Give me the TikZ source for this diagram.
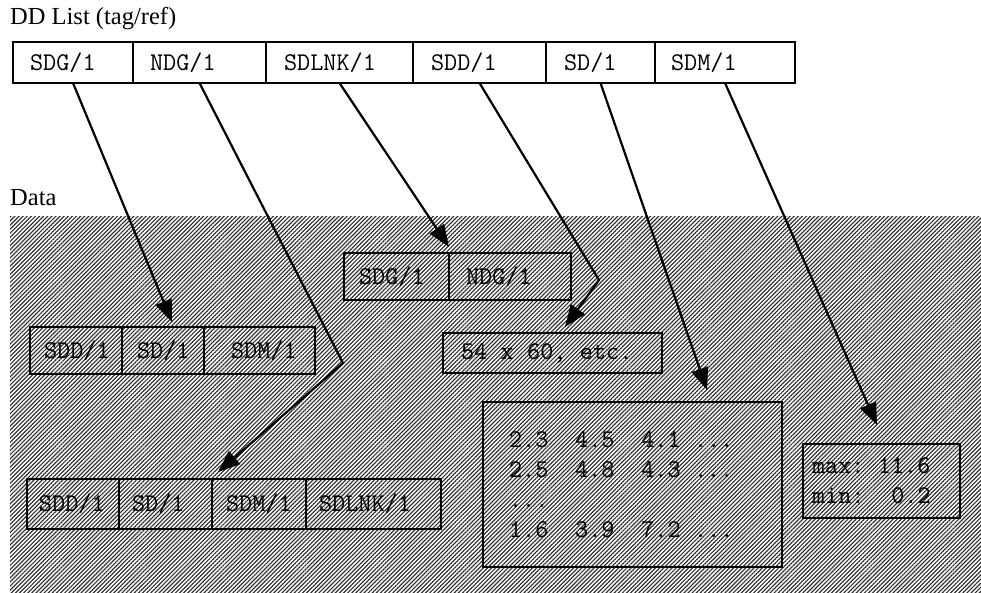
\documentclass[tikz,border=0pt]{standalone}
\usepackage{fontspec}
\setmainfont{Liberation Serif}
\newcommand\msp{\hspace*{0.525em}}
\usetikzlibrary{arrows.meta,patterns.meta,calc}
\begin{document}
\begin{tikzpicture}[x=1pt,y=-1pt,
  cell/.style={draw, line width=2.4pt, outer sep=0pt, anchor=north west, inner xsep=0pt, inner ysep=0pt, align=left, font=\ttfamily\fontsize{25.5}{30}\selectfont},
  link/.style={line width=2.2pt, line join=miter, -{Triangle[length=22pt,width=17pt]}},
  lbl/.style={anchor=base west, inner sep=0pt, font=\fontsize{24.5}{26}\selectfont}]
\useasboundingbox (0,0) rectangle (981,592);
% hatched data area
\fill[pattern={Lines[angle=45,distance=2.9pt,line width=1.2pt]}, pattern color=black!80] (10,216) rectangle (981,592);
% labels
\node[lbl] (ddlist) at (10,24) {DD List (tag/ref)};
\node[lbl] (datalbl) at (10,205) {Data};
% top DD list
\node[cell, text width=120pt, minimum height=41pt] (tsdg) at (13,42) {\hspace*{17pt}SDG/1};
\node[cell, text width=133pt, minimum height=41pt] (tndg) at (tsdg.north east) {\hspace*{17pt}NDG/1};
\node[cell, text width=147pt, minimum height=41pt] (tsdlnk) at (tndg.north east) {\hspace*{18pt}SDLNK/1};
\node[cell, text width=133pt, minimum height=41pt] (tsdd) at (tsdlnk.north east) {\hspace*{18pt}SDD/1};
\node[cell, text width=109pt, minimum height=41pt] (tsd) at (tsdd.north east) {\hspace*{18pt}SD/1};
\node[cell, text width=140pt, minimum height=41pt] (tsdm) at (tsd.north east) {\hspace*{16pt}SDM/1};
% SDG list
\node[cell, text width=92pt, minimum height=47pt] (asdd) at (30,327) {\hspace*{14pt}SDD/1};
\node[cell, text width=82pt, minimum height=47pt] (asd) at (asdd.north east) {\hspace*{15pt}SD/1};
\node[cell, text width=111pt, minimum height=47pt] (asdm) at (asd.north east) {\hspace*{27pt}SDM/1};
% NDG list
\node[cell, text width=92pt, minimum height=50pt] (bsdd) at (27,479) {\hspace*{12pt}SDD/1};
\node[cell, text width=93pt, minimum height=50pt] (bsd) at (bsdd.north east) {\hspace*{13pt}SD/1};
\node[cell, text width=94pt, minimum height=50pt] (bsdm) at (bsd.north east) {\hspace*{14pt}SDM/1};
\node[cell, text width=135pt, minimum height=50pt] (bsdlnk) at (bsdm.north east) {\hspace*{13pt}SDLNK/1};
% SDLNK list
\node[cell, text width=105pt, minimum height=47pt] (csdg) at (344,253) {\hspace*{15pt}SDG/1};
\node[cell, text width=122pt, minimum height=47pt] (cndg) at (csdg.north east) {\hspace*{17pt}NDG/1};
% SDD
\node[cell, text width=219pt, minimum height=40pt] (dim) at (443,333) {\hspace*{18pt}54\msp x\msp 60,\msp etc.};
% SD data
\node[cell, text width=247pt, inner xsep=26pt, minimum height=165pt] (vals) at (483,402)
  {2.3\msp\msp 4.5\msp\msp 4.1\msp ...\\2.5\msp\msp 4.8\msp\msp 4.3\msp ...\\...\\1.6\msp\msp 3.9\msp\msp 7.2\msp ...};
% SDM
\node[cell, text width=139pt, inner xsep=9pt, minimum height=74pt] (mm) at (803,444)
  {max:\msp 11.6\\min:\msp\msp 0.2};
% connectors
\coordinate (bend1) at (343,363);
\coordinate (bend2) at (599,280);
\draw[link] (tsdg.south) -- ($(asd.north)+(9,-5)$);
\draw[link] (tndg.south) -- (bend1) -- ($(bsdm.north west)+(6,-7)$);
\draw[link] (tsdlnk.south) -- ($(cndg.north west)+(0,-6)$);
\draw[link] (tsdd.south) -- (bend2) -- ($(dim.north west)+(122,-6)$);
\draw[link] (tsd.south) -- ($(vals.north west)+(224,-12)$);
\draw[link] (tsdm.south) -- ($(mm.north west)+(74,-19)$);
\end{tikzpicture}
\end{document}
